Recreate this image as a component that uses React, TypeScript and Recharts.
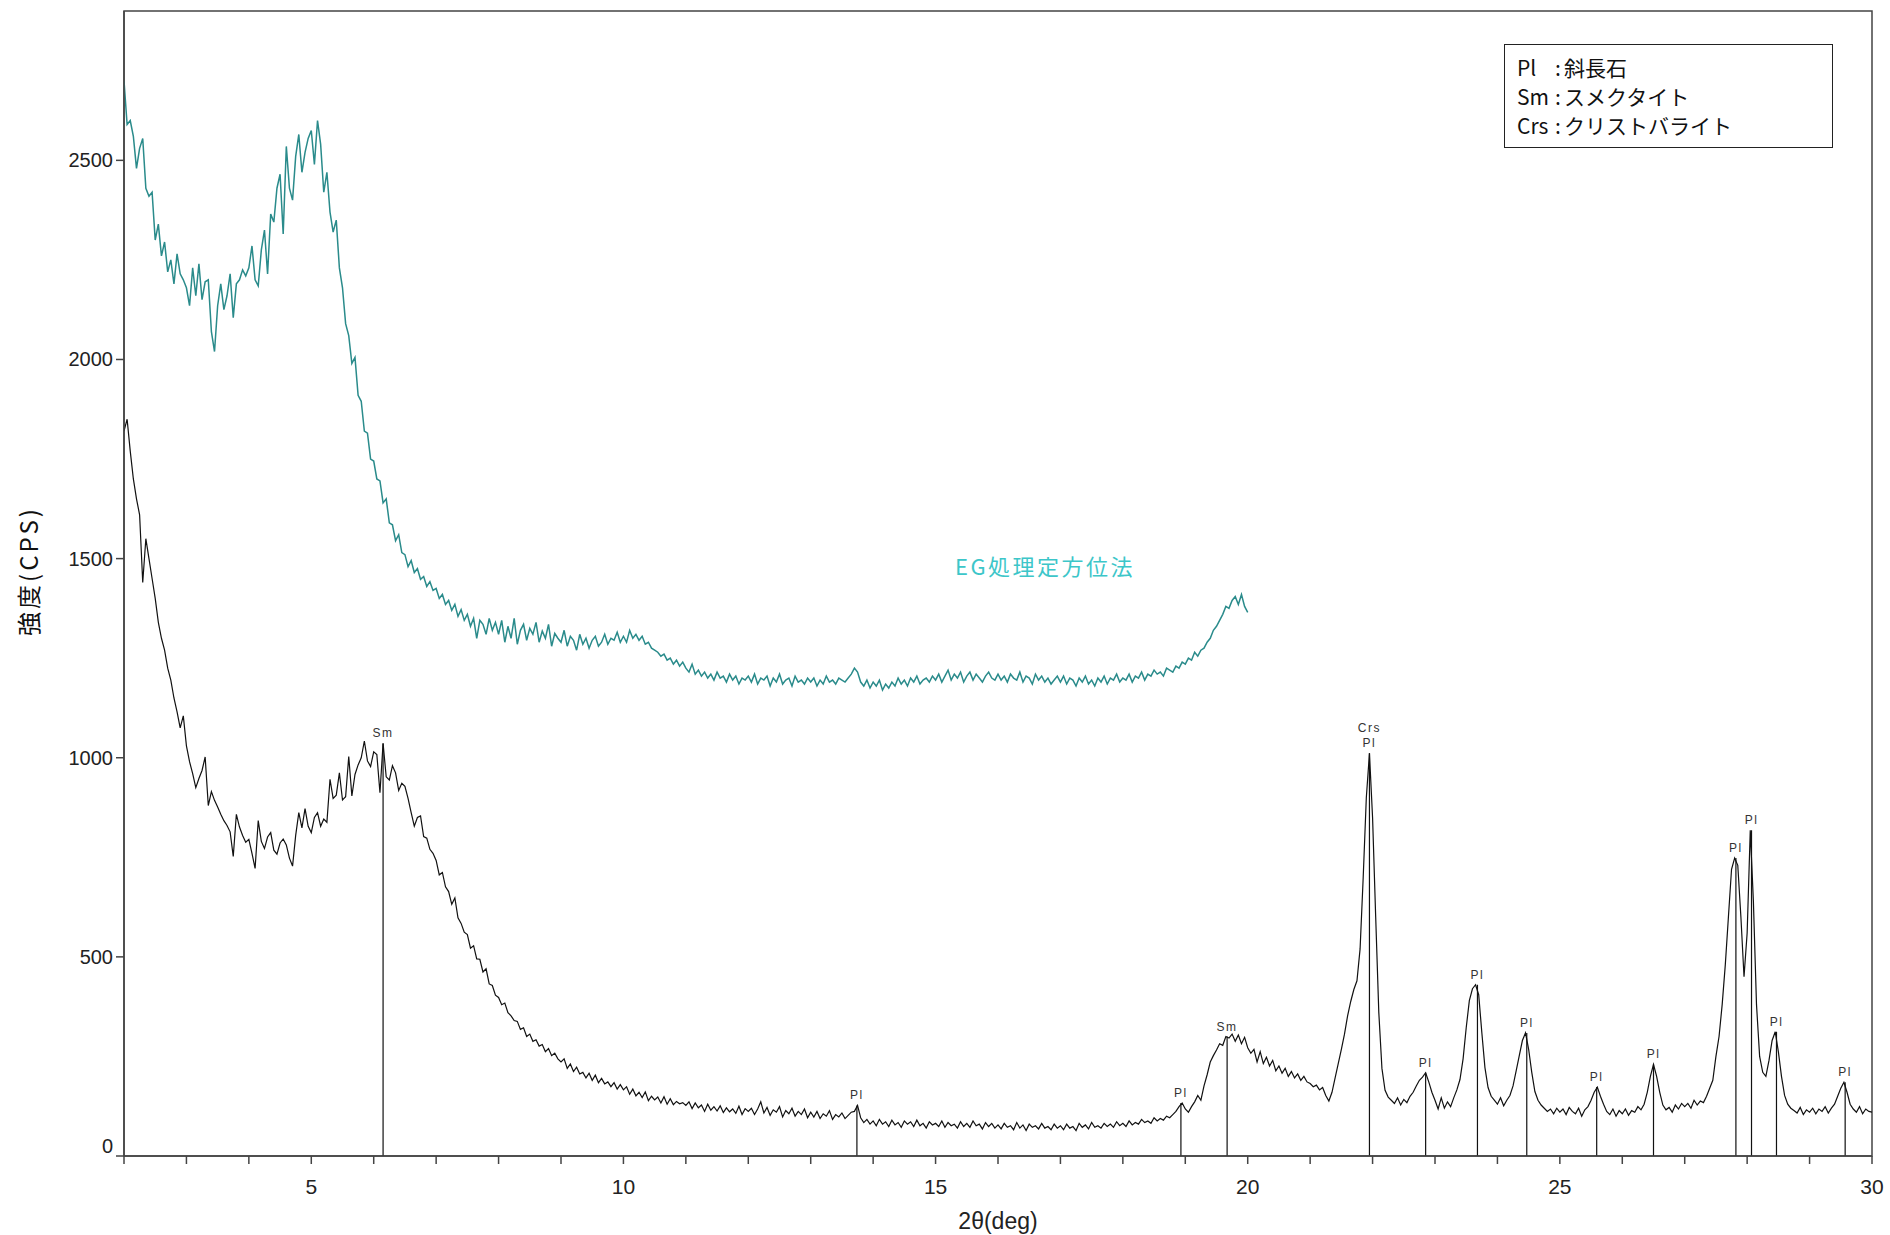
import React from 'react';
import { ComposedChart, Line, XAxis, YAxis, ReferenceLine, ReferenceArea, Scatter } from 'recharts';

// 2θ scan: start 2°, step 0.05°
const scanStart = 2;
const scanStep = 0.05;

// 定方位法 (untreated) intensity, one row per degree (2.00 … 29.95) plus 30.00
const untreatedRows: number[][] = [
  [1820,1850,1770,1700,1650,1610,1440,1550,1500,1450,1400,1340,1300,1270,1225,1195,1150,1115,1075,1105],
  [1030,990,960,925,948,968,1002,880,915,893,876,858,842,830,814,752,858,826,805,788],
  [795,760,722,842,790,772,801,812,768,758,786,796,781,748,728,805,862,824,872,828],
  [812,850,862,828,846,838,946,898,906,962,894,902,1003,904,958,982,1000,1042,992,978],
  [1015,1008,912,1036,952,944,980,962,918,936,928,898,862,828,850,854,802,798,770,760],
  [742,706,712,676,664,632,648,598,584,562,556,522,528,495,494,462,470,432,428,404],
  [398,380,384,360,352,340,338,318,322,300,306,288,292,276,280,262,270,252,258,244],
  [236,244,220,231,212,223,206,210,196,208,190,203,184,195,181,186,174,184,168,179],
  [166,174,155,168,151,160,147,161,139,150,141,148,133,149,130,144,129,137,131,134],
  [127,136,119,133,121,128,112,130,115,124,113,126,109,121,111,118,107,125,104,119],
  [112,120,104,118,136,108,122,102,116,110,124,98,114,106,120,100,112,104,118,96],
  [110,98,112,94,106,100,114,92,104,98,108,94,102,110,112,127,96,84,92,80],
  [88,76,92,80,86,74,90,78,84,72,88,80,86,74,90,76,82,70,86,78],
  [82,74,88,72,84,76,80,70,86,74,82,72,88,76,80,68,84,74,82,70],
  [78,68,82,72,76,66,84,70,78,64,80,72,76,68,82,70,74,66,80,70],
  [76,66,80,70,74,64,82,72,78,68,84,72,76,70,82,74,80,72,86,76],
  [82,74,88,78,84,80,92,84,88,82,96,88,94,90,100,96,104,112,124,133],
  [118,110,124,136,152,140,176,204,236,252,266,282,278,300,296,306,288,304,282,298],
  [272,258,268,236,262,232,248,226,240,214,226,208,220,200,212,196,206,190,200,186],
  [182,174,178,166,172,152,138,160,196,232,268,306,352,388,418,440,520,700,900,1011],
  [850,600,360,220,165,148,140,132,146,128,142,134,150,160,176,190,198,209,186,160],
  [140,118,146,120,136,124,146,166,192,244,322,390,420,430,405,310,222,172,150,140],
  [130,146,126,140,152,176,214,252,290,309,268,210,162,140,128,120,112,118,106,120],
  [110,118,104,122,112,106,120,100,116,124,140,160,173,150,130,112,104,118,100,114],
  [106,118,102,114,110,124,116,130,160,200,230,200,160,128,116,122,110,128,118,132],
  [124,132,120,140,128,138,134,150,170,190,250,300,380,480,600,720,748,730,600,450],
  [560,818,640,380,250,210,200,240,290,312,262,200,152,130,120,114,108,122,104,116],
  [110,120,106,118,112,124,108,120,130,150,170,185,160,130,118,110,124,106,118,112],
  [110],
];

// EG処理定方位法 intensity, one row per degree (2.00 … 19.95) plus 20.00
const egRows: number[][] = [
  [2700,2590,2600,2560,2480,2530,2555,2430,2410,2420,2300,2340,2260,2295,2220,2250,2190,2265,2215,2200],
  [2180,2135,2230,2160,2240,2150,2195,2200,2070,2020,2135,2190,2125,2160,2215,2105,2190,2200,2225,2210],
  [2230,2285,2200,2185,2275,2325,2215,2365,2345,2430,2465,2315,2535,2430,2400,2510,2565,2470,2520,2555],
  [2575,2490,2600,2540,2420,2470,2370,2320,2350,2230,2180,2090,2060,1990,2005,1910,1895,1820,1815,1750],
  [1745,1700,1695,1640,1650,1590,1585,1545,1560,1515,1510,1480,1495,1465,1475,1448,1455,1430,1442,1420],
  [1425,1400,1410,1385,1395,1370,1385,1355,1372,1345,1360,1330,1350,1300,1345,1335,1310,1350,1320,1340],
  [1310,1345,1290,1330,1300,1350,1285,1320,1335,1295,1325,1310,1340,1290,1318,1300,1335,1280,1312,1300],
  [1290,1320,1280,1305,1295,1270,1310,1285,1300,1275,1295,1305,1280,1290,1310,1285,1300,1295,1315,1290],
  [1305,1290,1320,1300,1310,1295,1305,1285,1290,1275,1270,1265,1255,1260,1245,1250,1235,1245,1230,1240],
  [1225,1215,1235,1210,1220,1205,1215,1200,1210,1195,1215,1200,1205,1190,1210,1195,1205,1185,1200,1195],
  [1205,1190,1210,1185,1200,1195,1205,1180,1200,1190,1210,1185,1195,1200,1180,1205,1190,1195,1185,1200],
  [1190,1200,1180,1195,1185,1205,1190,1195,1185,1200,1195,1190,1200,1210,1225,1215,1190,1180,1195,1175],
  [1190,1180,1195,1170,1185,1175,1190,1180,1200,1185,1195,1180,1200,1190,1205,1185,1195,1200,1190,1205],
  [1195,1210,1190,1205,1220,1195,1210,1200,1215,1190,1205,1215,1195,1210,1200,1190,1205,1215,1200,1195],
  [1210,1195,1205,1190,1210,1200,1195,1215,1190,1205,1200,1185,1210,1195,1205,1190,1200,1185,1195,1205],
  [1190,1205,1185,1200,1195,1180,1200,1190,1205,1185,1195,1180,1200,1190,1205,1185,1200,1195,1210,1190],
  [1200,1195,1210,1190,1205,1200,1215,1195,1210,1205,1220,1210,1215,1205,1225,1220,1215,1230,1225,1240],
  [1235,1250,1245,1265,1255,1270,1275,1290,1300,1320,1330,1345,1360,1380,1375,1395,1405,1385,1410,1380],
  [1365],
];

// identified peaks
const peakAngles = [6.15, 13.74, 18.93, 19.67, 21.95, 22.85, 23.68, 24.47, 25.59, 26.5, 27.82, 28.07, 28.47, 29.57];
const peakHeights = [1036, 127, 133, 300, 1011, 209, 430, 309, 173, 230, 748, 818, 312, 185];
const peakLabels = ['Sm', 'Pl', 'Pl', 'Sm', 'Crs|Pl', 'Pl', 'Pl', 'Pl', 'Pl', 'Pl', 'Pl', 'Pl', 'Pl', 'Pl'];

const xTicks = [2,3,4,5,6,7,8,9,10,11,12,13,14,15,16,17,18,19,20,21,22,23,24,25,26,27,28,29,30];
const xLabelTicks = [5, 10, 15, 20, 25, 30];
const yTicks = [0, 500, 1000, 1500, 2000, 2500];

const legendAbbr = ['Pl', 'Sm', 'Crs'];
const legendNames = ['斜長石', 'スメクタイト', 'クリストバライト'];

const xTitle = '2θ(deg)';
const yTitle = '強度(CPS)';
const egTitle = 'EG処理定方位法';

const toSeries = (rows: number[][]) =>
  rows.flat().map((y, i) => ({ x: Math.round((scanStart + i * scanStep) * 100) / 100, y }));

const untreatedData = toSeries(untreatedRows);
const egData = toSeries(egRows);
const peakData = peakAngles.map((x, i) => ({ x, y: peakHeights[i], label: peakLabels[i] }));

const NARROW = '"Liberation Sans Narrow", "Liberation Sans", Arial, sans-serif';
const CJK = '"Noto Sans CJK JP", "Noto Sans", sans-serif';

const XTick = (props: any) => {
  const { x, y, payload } = props;
  if (!xLabelTicks.includes(payload.value)) return <g />;
  return (
    <text x={x} y={y + 28} textAnchor="middle" fontSize={21} fontFamily={NARROW} fill="#222">
      {payload.value}
    </text>
  );
};

const YTick = (props: any) => {
  const { x, y, payload } = props;
  const yy = payload.value === 0 ? y - 10 : y;
  return (
    <text x={x - 1} y={yy + 7} textAnchor="end" fontSize={20} fontFamily={'"Liberation Sans", Arial, sans-serif'} fill="#222">
      {payload.value}
    </text>
  );
};

const PeakLabel = (props: any) => {
  const { cx, cy, payload } = props;
  const parts: string[] = String(payload.label).split('|');
  return (
    <g>
      {parts.map((p, i) => (
        <text
          key={i}
          x={cx}
          y={cy - 6 - (parts.length - 1 - i) * 15}
          textAnchor="middle"
          fontSize={12}
          letterSpacing={1.5}
          fontFamily={'"Liberation Sans", Arial, sans-serif'}
          fill="#333"
        >
          {p}
        </text>
      ))}
    </g>
  );
};

export default function App() {
  return (
    <div style={{ position: 'absolute', left: 0, top: 0, width: 1890, height: 1235, background: '#fff', overflow: 'hidden' }}>
      <ComposedChart width={1890} height={1235} margin={{ top: 11, right: 18, left: 0, bottom: 0 }}>
        <XAxis
          dataKey="x"
          type="number"
          domain={[2, 30]}
          ticks={xTicks}
          interval={0}
          allowDataOverflow
          height={79}
          tickSize={8}
          tick={<XTick />}
          stroke="#444"
          strokeWidth={1.5}
        />
        <YAxis
          type="number"
          domain={[0, 2875]}
          ticks={yTicks}
          interval={0}
          allowDataOverflow
          width={124}
          tickSize={8}
          tick={<YTick />}
          stroke="#444"
          strokeWidth={1.5}
        />
        <ReferenceArea x1={2} x2={30} y1={0} y2={2875} fill="none" stroke="#444" strokeWidth={1.5} ifOverflow="visible" />
        {peakAngles.map((a, i) => (
          <ReferenceLine
            key={i}
            segment={[{ x: a, y: 0 }, { x: a, y: peakHeights[i] }]}
            stroke="#111"
            strokeWidth={1.2}
          />
        ))}
        <Line
          data={egData}
          dataKey="y"
          type="linear"
          stroke="#2a8b8b"
          strokeWidth={1.5}
          dot={false}
          isAnimationActive={false}
        />
        <Line
          data={untreatedData}
          dataKey="y"
          type="linear"
          stroke="#111"
          strokeWidth={1.2}
          dot={false}
          isAnimationActive={false}
        />
        <Scatter data={peakData} dataKey="y" shape={<PeakLabel />} isAnimationActive={false} />
      </ComposedChart>

      <div
        style={{
          position: 'absolute',
          left: 27,
          top: 571,
          transform: 'translate(-50%, -50%) rotate(-90deg)',
          fontFamily: CJK,
          fontSize: 24,
          letterSpacing: 3,
          whiteSpace: 'nowrap',
          color: '#111',
        }}
      >
        {yTitle}
      </div>

      <div
        style={{
          position: 'absolute',
          left: 998,
          top: 1221,
          transform: 'translate(-50%, -50%)',
          fontFamily: NARROW,
          fontSize: 23,
          whiteSpace: 'nowrap',
          color: '#222',
        }}
      >
        {xTitle}
      </div>

      <div
        style={{
          position: 'absolute',
          left: 955,
          top: 565,
          transform: 'translateY(-50%)',
          fontFamily: CJK,
          fontSize: 22,
          letterSpacing: 2.5,
          whiteSpace: 'nowrap',
          color: '#3cc6c9',
        }}
      >
        {egTitle}
      </div>

      <div
        style={{
          position: 'absolute',
          left: 1504,
          top: 44,
          width: 329,
          height: 104,
          boxSizing: 'border-box',
          border: '1.5px solid #222',
          background: '#fff',
          paddingLeft: 12,
          paddingTop: 8,
          fontFamily: CJK,
          fontSize: 21,
          lineHeight: '29px',
          color: '#111',
        }}
      >
        {legendAbbr.map((a, i) => (
          <div key={a} style={{ display: 'flex', whiteSpace: 'nowrap' }}>
            <span style={{ width: 38, display: 'inline-block' }}>{a}</span>
            <span style={{ width: 9, display: 'inline-block' }}>:</span>
            <span>{legendNames[i]}</span>
          </div>
        ))}
      </div>
    </div>
  );
}
